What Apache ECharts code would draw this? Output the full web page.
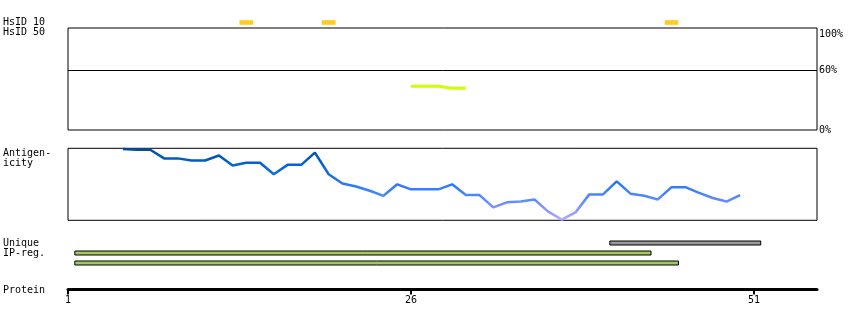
<!DOCTYPE html>
<html><head><meta charset="utf-8">
<script src="https://cdn.jsdelivr.net/npm/echarts@6/dist/echarts.min.js"></script>
<style>html,body{margin:0;padding:0;background:#fff}#c{width:850px;height:330px}</style>
</head><body><div id="c"></div>
<script>
const FONT = '"DejaVu Sans Mono", monospace';

// HsID 10 hits (residues)
const hsid10Residues = [14, 20, 45];
// HsID 50 identity track (% identity)
const hsid50Residues = [26, 27, 28, 29, 30];
const hsid50Values = [44, 44, 44, 42, 42];
// Antigenicity profile (relative score, 0-100)
const antigenResidues = [5, 6, 7, 8, 9, 10, 11, 12, 13, 14, 15, 16, 17, 18, 19, 20,
  21, 22, 23, 24, 25, 26, 27, 28, 29, 30, 31, 32, 33, 34, 35, 36, 37, 38, 39, 40,
  41, 42, 43, 44, 45, 46, 47, 48, 49, 50];
const antigenValues = [99, 98, 98, 86, 86, 83, 83, 90, 76, 80, 80, 64, 77, 77, 94, 64,
  51, 47, 41, 34, 50, 43, 43, 43, 50, 35, 35, 18, 25, 26, 29, 12, 1, 11, 36, 36,
  54, 37, 34, 29, 46, 46, 38, 31, 26, 35];
// Regions [start, end]
const regionRows = ['Unique', 'IP-reg. 1', 'IP-reg. 2'];
const uniqueRegions = [[41, 51]];
const ipRegions = [[2, 43], [2, 45]];
// Axis
const proteinStart = 1;
const proteinEnd = 55.6;
const proteinTickStep = 25;
const percentLabels = [0, 60, 100];
const identityCutoff = 60;

const xBase = { type: 'value', min: proteinStart, max: proteinEnd, show: false };
const gridL = 68, gridR = 33;

function barItem(params, api) {
  const s = api.coord([api.value(0) - 0.5, 0]);
  const e = api.coord([api.value(0) + 0.5, 0]);
  return { type: 'rect', shape: { x: s[0], y: 20.2, width: e[0] - s[0], height: 4.6 },
    style: { fill: '#ffcc1a' } };
}
function regionItem(params, api) {
  const row = api.value(2);
  const s = api.coord([api.value(0) - 0.5, row]);
  const e = api.coord([api.value(1) + 0.5, row]);
  return { type: 'rect', shape: { x: s[0], y: Math.round(s[1]) - 2, width: e[0] - s[0], height: 4 },
    style: { fill: api.visual('color'), stroke: '#000', lineWidth: 1 } };
}

const chart = echarts.init(document.getElementById('c'), null, { renderer: 'canvas' });
const txt = (t, y) => ({ type: 'text', style: { text: t, x: 3, y: y, fill: '#000',
  font: '10px ' + FONT, verticalAlign: 'middle' } });

chart.setOption({
  animation: false,
  backgroundColor: '#fff',
  graphic: [txt('HsID 10', 22.7), txt('HsID 50', 32.7), txt('Antigen-', 153), txt('icity', 163),
    txt('Unique', 243.3), txt('IP-reg.', 253.3), txt('Protein', 290)],
  grid: [
    { left: gridL, right: gridR, top: 17.5, height: 10 },
    { left: gridL, right: gridR, top: 28, height: 102, show: true, borderColor: '#000', borderWidth: 1 },
    { left: gridL, right: gridR, top: 148.3, height: 72, show: true, borderColor: '#000', borderWidth: 1 },
    { left: gridL, right: gridR, top: 237.5, height: 30 },
    { left: gridL, right: gridR, top: 270, height: 19.5 }
  ],
  xAxis: [
    Object.assign({ gridIndex: 0 }, xBase),
    Object.assign({ gridIndex: 1 }, xBase),
    Object.assign({ gridIndex: 2 }, xBase),
    Object.assign({ gridIndex: 3 }, xBase),
    { gridIndex: 4, type: 'value', min: proteinStart, max: proteinEnd, interval: proteinTickStep,
      splitLine: { show: false },
      axisLine: { lineStyle: { color: '#000', width: 3 } },
      axisTick: { length: 5, lineStyle: { color: '#000', width: 2 } },
      axisLabel: { color: '#000', fontSize: 10, fontFamily: FONT, margin: 6, showMaxLabel: false } }
  ],
  yAxis: [
    { gridIndex: 0, type: 'value', min: 0, max: 1, show: false },
    { gridIndex: 1, type: 'value', min: 0, max: 102.5, interval: 20, position: 'right',
      splitLine: { show: false }, axisLine: { show: false }, axisTick: { show: false },
      axisLabel: { color: '#000', fontSize: 10, fontFamily: FONT, margin: 2, showMaxLabel: false,
        formatter: v => v === 100 ? '{t|100%}' : (percentLabels.indexOf(v) >= 0 ? v + '%' : ''),
        rich: { t: { fontSize: 10, fontFamily: FONT, color: '#000', padding: [7, 0, 0, 0] } } } },
    { gridIndex: 2, type: 'value', min: 0, max: 100, show: false },
    { gridIndex: 3, type: 'category', data: regionRows, inverse: true, show: false },
    { gridIndex: 4, type: 'value', show: false }
  ],
  visualMap: {
    show: false, type: 'continuous', seriesIndex: 2, dimension: 1, min: 0, max: 100,
    inRange: { color: ['#b8a8ff', '#7890ff', '#3c82ff', '#1a6ef0', '#0060d0', '#004c9c'] }
  },
  series: [
    { type: 'custom', name: 'HsID 10', xAxisIndex: 0, yAxisIndex: 0, renderItem: barItem,
      data: hsid10Residues.map(r => [r]), silent: true },
    { type: 'line', name: 'HsID 50', xAxisIndex: 1, yAxisIndex: 1, symbol: 'none',
      lineStyle: { color: '#ccff00', width: 3 },
      data: hsid50Residues.map((r, i) => [r, hsid50Values[i]]),
      markLine: { silent: true, symbol: 'none', label: { show: false },
        lineStyle: { color: '#000', width: 1, type: 'solid' }, data: [{ yAxis: identityCutoff }] } },
    { type: 'line', name: 'Antigenicity', xAxisIndex: 2, yAxisIndex: 2, symbol: 'none',
      lineStyle: { width: 2.5 },
      data: antigenResidues.map((r, i) => [r, antigenValues[i]]) },
    { type: 'custom', name: 'Unique', xAxisIndex: 3, yAxisIndex: 3, renderItem: regionItem,
      itemStyle: { color: '#999999' },
      data: uniqueRegions.map(r => [r[0], r[1], 'Unique']) },
    { type: 'custom', name: 'IP-reg.', xAxisIndex: 3, yAxisIndex: 3, renderItem: regionItem,
      itemStyle: { color: '#a2c95e' },
      data: ipRegions.map((r, i) => [r[0], r[1], regionRows[i + 1]]) },
    { type: 'line', name: 'Protein', xAxisIndex: 4, yAxisIndex: 4, data: [], symbol: 'none' }
  ]
});
</script></body></html>
